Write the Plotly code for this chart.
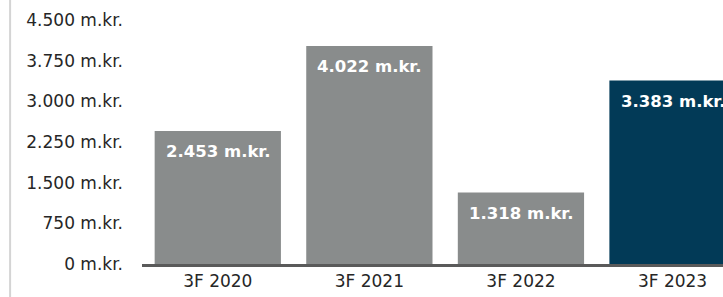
import plotly.graph_objects as go

categories = ["3F 2020", "3F 2021", "3F 2022", "3F 2023"]
values = [2453, 4022, 1318, 3383]
value_labels = ["2.453 m.kr.", "4.022 m.kr.", "1.318 m.kr.", "3.383 m.kr."]
bar_colors = ["#898c8c", "#898c8c", "#898c8c", "#023a57"]
tick_vals = [0, 750, 1500, 2250, 3000, 3750, 4500]
tick_text = ["0 m.kr.", "750 m.kr.", "1.500 m.kr.", "2.250 m.kr.", "3.000 m.kr.",
             "3.750 m.kr.", "4.500 m.kr."]

FONT = "DejaVu Sans"

fig = go.Figure()
fig.add_trace(go.Bar(
    x=categories, y=values,
    marker=dict(color=bar_colors, line=dict(width=0)),
    hoverinfo="skip",
))

for c, v, t in zip(categories, values, value_labels):
    fig.add_annotation(
        x=c, y=v, text="<b>%s</b>" % t, showarrow=False,
        xanchor="center", yanchor="middle", yshift=-21,
        font=dict(family=FONT, size=16.5, color="white"),
    )

# light vertical rule on the far left
fig.add_shape(type="line", xref="paper", yref="paper",
              x0=-0.227, x1=-0.227, y0=-0.2, y1=1.2,
              line=dict(color="#d4d4d4", width=2))

fig.update_layout(
    width=723, height=297,
    margin=dict(l=141.5, r=0, t=20, b=33),
    paper_bgcolor="white", plot_bgcolor="white",
    bargap=0.167,
    showlegend=False,
    font=dict(family=FONT, size=17, color="#262626"),
    xaxis=dict(
        range=[-0.5, 3.333],
        showline=True, linecolor="#5a5a5a", linewidth=3,
        showgrid=False, zeroline=False, ticks="",
        tickfont=dict(family=FONT, size=17, color="#262626"),
        fixedrange=True,
    ),
    yaxis=dict(
        range=[0, 4500],
        tickvals=tick_vals, ticktext=tick_text,
        showline=False, showgrid=False, zeroline=False, ticks="",
        ticklabelstandoff=18,
        tickfont=dict(family=FONT, size=17, color="#262626"),
        fixedrange=True,
    ),
)

fig.write_html("out.html", config={"staticPlot": True},
               post_script="document.body.style.margin='0';")
